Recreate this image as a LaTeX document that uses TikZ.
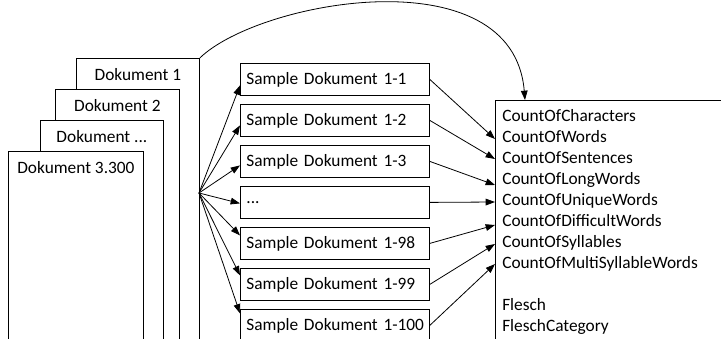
\documentclass[tikz,border=0pt]{standalone}
\usepackage{fontspec}
\setmainfont{Carlito}
\usetikzlibrary{arrows.meta,positioning,calc}
\newcommand{\elide}{...}

\begin{document}
\begin{tikzpicture}[x=0.75pt, y=-0.75pt,
  font=\fontsize{13}{15.75}\selectfont,
  doc/.style={draw, fill=white, line width=0.6pt, anchor=north west,
              inner xsep=0pt, inner ysep=0pt, text height=16.5pt, text depth=230pt},
  sample/.style={draw, fill=white, line width=0.6pt, anchor=north west,
              minimum width=141.75pt, minimum height=24pt, inner xsep=4.5pt,
              text width=132.75pt, align=left},
  arr/.style={-{Triangle[length=7pt,width=5pt]}, line width=0.6pt},
]
  \useasboundingbox (0,0) rectangle (721,339);
  \clip (0,0) rectangle (721,339);

  % stacked documents, back to front
  \node[doc, minimum width=92.25pt] (d1) at (76,58) {Dokument 1};
  \node[doc, minimum width=93pt] (d2) at (55,89) {Dokument 2};
  \node[doc, minimum width=92.25pt] (d3) at (40,120) {Dokument \elide};
  \node[doc, minimum width=101.25pt] (d4) at (8,151) {Dokument 3.300};
  \coordinate (fan) at (199,193);

  % samples
  \foreach \i/\t in {1/Sample Dokument 1-1, 2/Sample Dokument 1-2, 3/Sample Dokument 1-3,
                     4/\elide, 5/Sample Dokument 1-98, 6/Sample Dokument 1-99, 7/Sample Dokument 1-100}
    \node[sample] (s\i) at (240,{63+41*(\i-1)}) {\mbox{\t}};

  % result
  \node[draw, line width=0.6pt, anchor=north west, minimum width=300pt, minimum height=250pt] (res) at (495,100) {};
  \node[anchor=north west, align=left, inner sep=0pt] (metrics) at (502,109.5)
    {CountOfCharacters\\CountOfWords\\CountOfSentences\\CountOfLongWords\\CountOfUniqueWords\\
     CountOfDifficultWords\\CountOfSyllables\\CountOfMultiSyllableWords\\[15.75pt]Flesch\\FleschCategory};

  % connectors
  \foreach \i/\d in {1/6, 2/5, 3/4, 4/1, 5/-8, 6/-9, 7/-12}
    \draw[arr] (fan) -- ($(s\i.west)+(0,\d)$);
  \foreach \i/\y in {1/39, 2/59, 3/85, 4/102, 5/125, 6/144, 7/164}
    \draw[arr] (s\i.east) -- ($(res.north west)+(0,\y)$);
  \draw[arr] (d1.north east) .. controls +(60,-58) and +(-12,-145) .. ($(res.north west)+(30,0)$);
\end{tikzpicture}
\end{document}
